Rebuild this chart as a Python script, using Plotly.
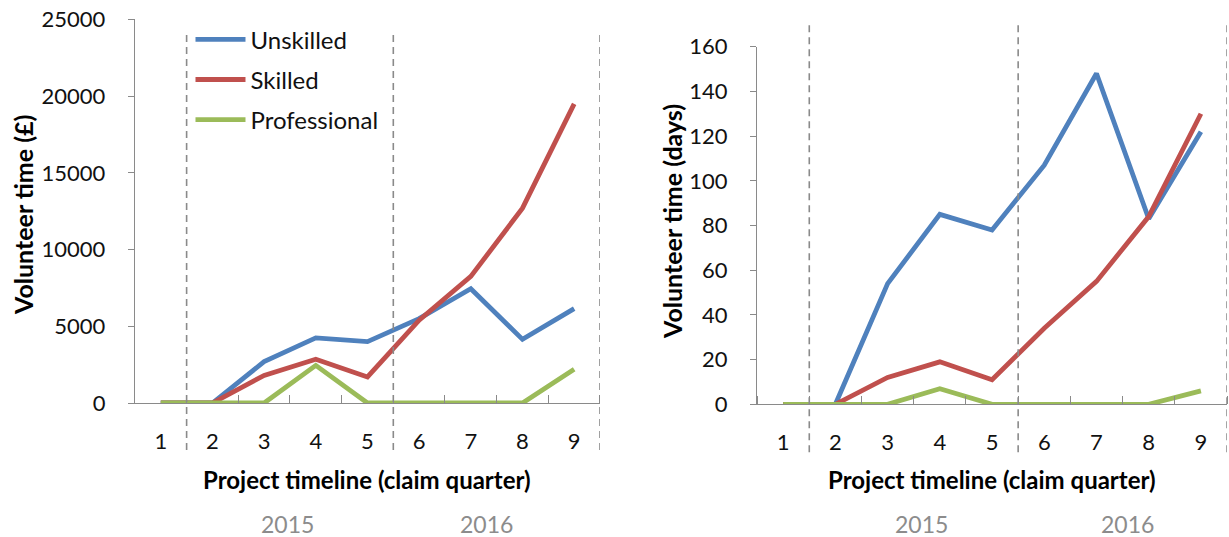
import plotly.graph_objects as go

# Claim quarters along the project timeline
quarters = [1, 2, 3, 4, 5, 6, 7, 8, 9]
tick_text = ["1", "2", "3", "4", "5", "6", "7", "8", "9"]

# Volunteer time valued in pounds
value_unskilled = [0, 0, 2700, 4250, 4000, 5500, 7450, 4150, 6150]
value_skilled = [0, 0, 1800, 2850, 1700, 5400, 8250, 12700, 19500]
value_professional = [0, 0, 0, 2450, 0, 0, 0, 0, 2200]

# Volunteer time in days
days_unskilled = [0, 0, 54, 85, 78, 107, 148, 83, 122]
days_skilled = [0, 0, 12, 19, 11, 34, 55, 84, 130]
days_professional = [0, 0, 0, 7, 0, 0, 0, 0, 6]

# Year boundaries (between quarters) and year labels
year_bounds = [1.5, 5.5, 9.5]
years = ["2015", "2016"]

series_names = ["Unskilled", "Skilled", "Professional"]
colors = ["#4F81BD", "#C0504D", "#9BBB59"]

FONT = "Lato"
fig = go.Figure()

left_vals = [value_unskilled, value_skilled, value_professional]
right_vals = [days_unskilled, days_skilled, days_professional]

for name, col, vals in zip(series_names, colors, left_vals):
    fig.add_trace(go.Scatter(
        x=quarters, y=vals, mode="lines", name=name,
        line=dict(color=col, width=4.8),
        legendgroup=name, xaxis="x", yaxis="y"))

for name, col, vals in zip(series_names, colors, right_vals):
    fig.add_trace(go.Scatter(
        x=quarters, y=vals, mode="lines", name=name,
        line=dict(color=col, width=4.8), showlegend=False,
        legendgroup=name, xaxis="x2", yaxis="y2"))

axis_grey = "#8a8a8a"
tickfont = dict(family=FONT, size=22, color="#111111")

def xaxis_cfg(domain, anchor):
    return dict(
        domain=domain, anchor=anchor, range=[0.5, 9.5], automargin=False,
        tickvals=quarters, ticktext=tick_text, ticks="",
        tickfont=tickfont, ticklabelstandoff=18,
        showline=True, linecolor=axis_grey, linewidth=1.3,
        showgrid=False, zeroline=False,
        minor=dict(tick0=0.5, dtick=1, ticks="inside", ticklen=8,
                   tickcolor=axis_grey, showgrid=False))

def yaxis_cfg(domain, anchor, rng, dtick):
    return dict(
        domain=domain, anchor=anchor, range=rng, dtick=dtick,
        automargin=False, tickformat="d",
        ticks="outside", ticklen=6, tickcolor=axis_grey,
        tickfont=tickfont, ticklabelstandoff=18,
        showline=True, linecolor=axis_grey, linewidth=1.3,
        showgrid=False, zeroline=False)

fig.update_layout(
    width=1229, height=537,
    margin=dict(l=0, r=0, t=0, b=0),
    paper_bgcolor="white", plot_bgcolor="white",
    font=dict(family=FONT),
    xaxis=xaxis_cfg([0.1098, 0.4882], "y"),
    yaxis=yaxis_cfg([0.2495, 0.9637], "x", [0, 25000], 5000),
    xaxis2=xaxis_cfg([0.6160, 0.9984], "y2"),
    yaxis2=yaxis_cfg([0.2471, 0.9130], "x2", [0, 160], 20),
    legend=dict(x=0.155, y=0.968, xanchor="left", yanchor="top",
                bgcolor="rgba(0,0,0,0)", borderwidth=0,
                font=dict(family=FONT, size=24, color="#111111"),
                tracegroupgap=6, itemwidth=50),
    showlegend=True,
)

# Dashed year separators
for xref, y0, y1 in [("x", 0.162, 0.935), ("x2", 0.158, 0.953)]:
    for b in year_bounds:
        fig.add_shape(type="line", xref=xref, yref="paper",
                      x0=b, x1=b, y0=y0, y1=y1,
                      line=dict(color="#8a8a8a", width=1.6, dash="7px,5px"))

# Axis titles
xtitle_font = dict(family=FONT, size=24, color="#000000")
ytitle_font = dict(family=FONT, size=25, color="#000000")
for xref in ["x domain", "x2 domain"]:
    fig.add_annotation(text="<b>Project timeline (claim quarter)</b>",
                       xref=xref, yref="paper", x=0.5, y=(537 - 480) / 537,
                       showarrow=False, font=xtitle_font, yanchor="middle")
fig.add_annotation(text="<b>Volunteer time (£)</b>", textangle=-90,
                   xref="paper", yref="paper", x=23 / 1229, y=(537 - 215) / 537,
                   showarrow=False, font=ytitle_font,
                   xanchor="center", yanchor="middle")
fig.add_annotation(text="<b>Volunteer time (days)</b>", textangle=-90,
                   xref="paper", yref="paper", x=672 / 1229, y=(537 - 222) / 537,
                   showarrow=False, font=ytitle_font,
                   xanchor="center", yanchor="middle")

# Year labels
year_font = dict(family=FONT, size=23, color="#8c8c8c")
for xref, xs in [("x", [3.45, 7.3]), ("x2", [3.65, 7.6])]:
    for yr, xv in zip(years, xs):
        fig.add_annotation(text=yr, xref=xref, yref="paper", x=xv,
                           y=(537 - 524) / 537, showarrow=False,
                           font=year_font, yanchor="middle")

fig.write_html("out.html")
